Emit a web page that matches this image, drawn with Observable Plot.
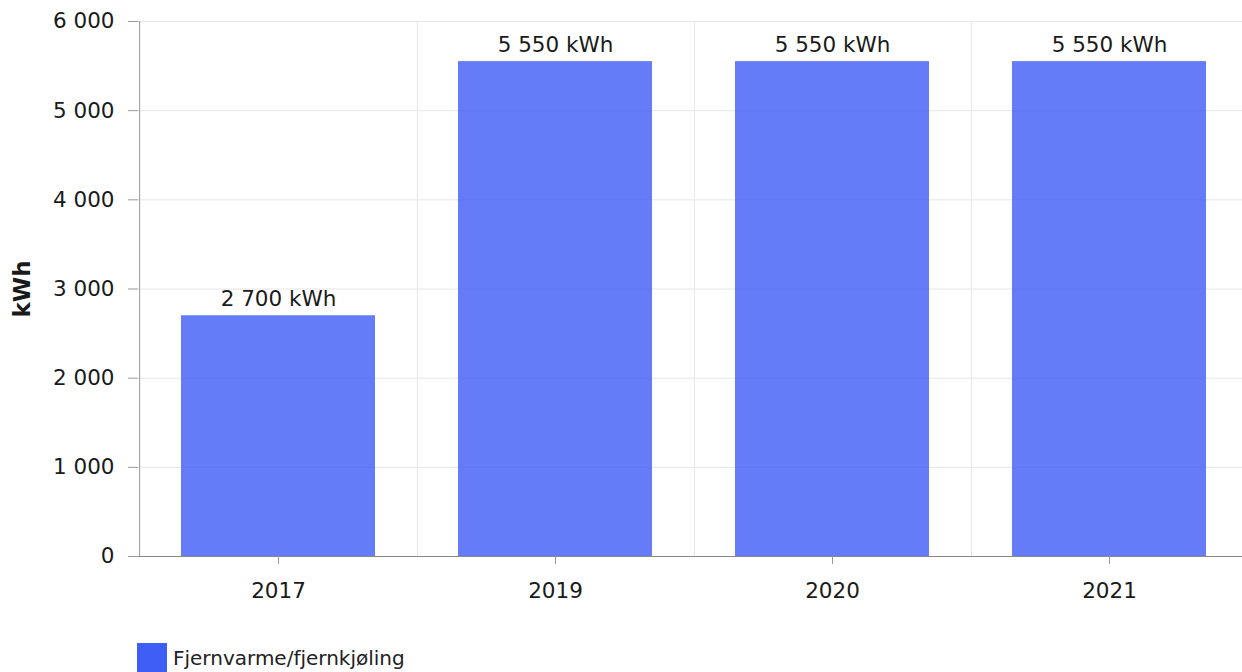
<!DOCTYPE html>
<html>
<head>
<meta charset="utf-8">
<script src="https://cdn.jsdelivr.net/npm/d3@7"></script>
<script src="https://cdn.jsdelivr.net/npm/@observablehq/plot@0.6"></script>
<style>
  html, body { margin: 0; padding: 0; background: #fff; overflow: hidden; }
  body { font-family: "DejaVu Sans", Verdana, sans-serif; }
  #chart svg { display: block; overflow: visible; }
  .legend { position: absolute; left: 137px; top: 643px; display: flex; align-items: center; font-size: 20px; color: #222; }
  .legend .sw { width: 30px; height: 30px; background: #3f5ef5; margin-right: 6px; }
</style>
</head>
<body>
<div id="chart"></div>
<div class="legend"><span class="sw"></span><span>Fjernvarme/fjernkjøling</span></div>
<script>
const years = ["2017", "2019", "2020", "2021"];
const values = [2700, 5550, 5550, 5550];
const yTicks = [0, 1000, 2000, 3000, 4000, 5000, 6000];
const seriesName = "Fjernvarme/fjernkjøling";
const unit = "kWh";

const data = years.map((y, i) => ({year: y, value: values[i]}));
const loc = d3.formatLocale({decimal: ",", thousands: "\u00a0", grouping: [3], currency: ["", ""]});
const fmt = loc.format(",d");

const xRange = [138, 1249];
const step = (xRange[1] - xRange[0]) / years.length;

const chart = Plot.plot({
  width: 1242,
  height: 630,
  marginLeft: 138,
  marginRight: 0,
  marginTop: 21,
  marginBottom: 74,
  style: {fontFamily: "DejaVu Sans, Verdana, sans-serif", fontSize: "21.5px", color: "#1a1a1a", background: "#fff"},
  x: {domain: years, range: xRange, paddingInner: 0.3, paddingOuter: 0.15},
  y: {domain: [0, 6000]},
  marks: [
    Plot.ruleY(yTicks, {stroke: "#e6e6e6", strokeWidth: 1}),
    Plot.ruleX(years.slice(0, -1), {x: d => d, dx: step / 2, stroke: "#e6e6e6", strokeWidth: 1}),
    Plot.barY(data, {x: "year", y: "value", fill: "#3d5bf5", fillOpacity: 0.8}),
    Plot.ruleX(years.slice(0, 1), {x: d => d, dx: -step / 2, stroke: "#999", strokeWidth: 1}),
    Plot.ruleY([0], {stroke: "#888", strokeWidth: 1}),
    Plot.axisY({ticks: yTicks, tickFormat: fmt, tickSize: 10, tickPadding: 14, stroke: "#999", label: null, fill: "#1a1a1a", fontSize: 21.5}),
    Plot.axisX({tickSize: 8, tickPadding: 18, stroke: "#999", label: null, fill: "#1a1a1a", fontSize: 21.5}),
    Plot.text(data, {x: "year", y: "value", text: d => fmt(d.value) + " " + unit, lineAnchor: "middle", dy: -17, fill: "#1a1a1a", fontSize: 21.5}),
    Plot.text([unit], {frameAnchor: "left", rotate: -90, dx: -116, text: d => d, fontWeight: "bold", fill: "#1a1a1a", fontSize: 23, textAnchor: "middle", lineAnchor: "middle"})
  ]
});
document.getElementById("chart").appendChild(chart);
</script>
</body>
</html>
